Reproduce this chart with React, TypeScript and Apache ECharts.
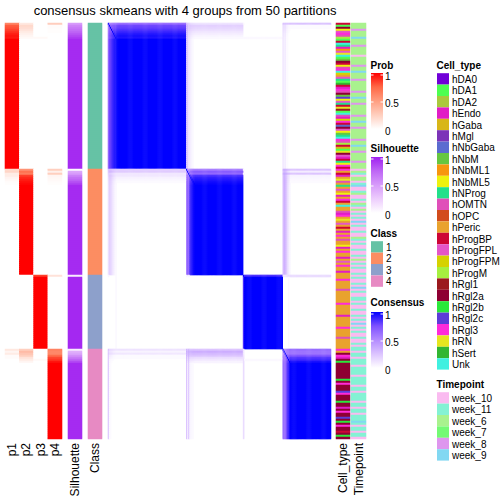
import React, { useEffect, useRef } from "react";
import * as echarts from "echarts";

const FONT = '"Liberation Sans", Arial, Helvetica, sans-serif';

const chartTitle = "consensus skmeans with 4 groups from 50 partitions";
const probColumns = ["p1", "p2", "p3", "p4"];
const classNames = ["1", "2", "3", "4"];
const classColors = ["#66C2A5", "#FC8D62", "#8DA0CB", "#E78AC3"];

const cellTypeNames = ["hDA0", "hDA1", "hDA2", "hEndo", "hGaba", "hMgl", "hNbGaba", "hNbM", "hNbML1", "hNbML5", "hNProg", "hOMTN", "hOPC", "hPeric", "hProgBP", "hProgFPL", "hProgFPM", "hProgM", "hRgl1", "hRgl2a", "hRgl2b", "hRgl2c", "hRgl3", "hRN", "hSert", "Unk"];
const cellTypeColors = ["#7000D8", "#4DFF50", "#AAC83C", "#E11CC6", "#D8B618", "#7C34B8", "#5B6BD0", "#66C640", "#F7960F", "#EEF20E", "#22E08A", "#E04FB9", "#D24C1C", "#E9A22E", "#CD0535", "#E455C8", "#D6D200", "#A6F040", "#9B1A1E", "#8E0033", "#2AE83A", "#5C3CD8", "#FF2ADA", "#E6E61E", "#32B632", "#40F0E0"];
const cellTypeKeys = "abcdefghijklmnopqrstuvwxyz";

const timepointNames = ["week_10", "week_11", "week_6", "week_7", "week_8", "week_9"];
const timepointColors = ["#FABBF0", "#84F2D4", "#A9F28E", "#74FA74", "#DE96EE", "#82D8F2"];
const timepointKeys = "ABCDEF";

// Ambiguous rows at the top of each class: [p1, p2, p3, p4, silhouette]
const class1Head = [
  [0.62, 0.12, 0, 0.26, 0.5],
  [0.78, 0.2, 0, 0.02, 0.6],
  [0.8, 0.18, 0, 0.02, 0.65],
  [0.84, 0.15, 0, 0.01, 0.7],
  [0.88, 0.11, 0, 0.01, 0.75],
  [0.92, 0.08, 0, 0, 0.8],
  [0.95, 0.05, 0, 0, 0.85],
  [0.94, 0.03, 0.03, 0, 0.9],
];
const class2Head = [
  [0.2, 0.55, 0, 0.25, 0.02],
  [0.22, 0.7, 0, 0.08, 0.45],
  [0.1, 0.65, 0, 0.25, 0.5],
  [0.1, 0.85, 0, 0.05, 0.62],
  [0.06, 0.9, 0, 0.04, 0.7],
  [0.04, 0.93, 0, 0.03, 0.75],
  [0.02, 0.96, 0, 0.02, 0.82],
  [0.01, 0.98, 0, 0.01, 0.88],
];
const class3Head = [[0, 0, 0.85, 0.15, 0.1]];
const class4Head = [
  [0.12, 0.25, 0, 0.63, 0.1],
  [0.05, 0.35, 0, 0.6, 0.4],
  [0.1, 0.3, 0, 0.6, 0.45],
  [0.02, 0.25, 0, 0.73, 0.55],
  [0.02, 0.15, 0, 0.83, 0.65],
  [0, 0.1, 0.03, 0.87, 0.75],
  [0, 0.05, 0, 0.95, 0.85],
];
const classHeads = [class1Head, class2Head, class3Head, class4Head];
const coreSilhouette = [0.96, 0.96, 0.97, 0.96];

// Cell type per row (letters map to cellTypeNames)
const cellType1 = "obtjpwlrbo" + "zkdipxzbht" + "ojlwzqnpkb" + "yodwlthvjp" + "koxsbzldqw" + "ogtpjhkzwl" + "roebxtpdok" + "jwo";
const cellType2 = "wnodnxlnkn" + "pnjdnwonzn" + "nldwnxnpno" + "ndnwnlnnjd" + "nwnndnpnwn" + "ndn";
const cellType3 = "nnwnnnnlnn" + "nnnnwnnnnn" + "dnnnnnwnnn" + "nlnnnnn";
const cellType4 = "wntwdtuttt" + "tttttutwtt" + "tvwtttuttd" + "twttvtutwt" + "totut";
const cellTypeByClass = [cellType1, cellType2, cellType3, cellType4];

// Timepoint per row (letters map to timepointNames)
const timepoint1 = "CCCECCCFCC" + "CECCCCACCC" + "CECCFCCCEC" + "CCCCECCFCC" + "ECCCCCECCF" + "CCECCCCCEC" + "CFCCECCCCE" + "CCC";
const timepoint2 = "ACBACCABFA" + "ABCAABACBA" + "CABABAFABA" + "ABAACBABAA" + "BAABACABAB" + "AAB";
const timepoint3 = "ABAABAFABA" + "ABBABAABAA" + "BABAFABABA" + "ABAABAB";
const timepoint4 = "BABBABBBAB" + "BBBABBBBAB" + "BABBBBABBA" + "BBABBBFBAB" + "BABBA";
const timepointByClass = [timepoint1, timepoint2, timepoint3, timepoint4];

const legendTicks = ["1", "0.5", "0"];

const probStops = ["#FFFFFF", "#FFCFBF", "#FF9E81", "#FF6846", "#FF0000"];
const silStops = ["#FFFFFF", "#EDCDFD", "#D79BFA", "#BE66F5", "#A020F0"];
const consStops = ["#FFFFFF", "#DCC4FF", "#B38BFF", "#7E51FF", "#0000FF"];

type Row = { p: number[]; sil: number; cls: number; ct: number; tp: number };

function buildRows(): Row[] {
  const rows: Row[] = [];
  for (let c = 0; c < 4; c++) {
    const cts = cellTypeByClass[c];
    const tps = timepointByClass[c];
    const head = classHeads[c];
    for (let r = 0; r < cts.length; r++) {
      let p: number[];
      let sil: number;
      if (r < head.length) {
        p = head[r].slice(0, 4);
        sil = head[r][4];
      } else {
        p = [0, 0, 0, 0];
        p[c] = 1;
        sil = coreSilhouette[c];
      }
      rows.push({
        p,
        sil,
        cls: c,
        ct: cellTypeKeys.indexOf(cts[r]),
        tp: timepointKeys.indexOf(tps[r] || "A"),
      });
    }
  }
  return rows;
}

function gradientLegend(title: string, titleY: number, barTop: number, stops: string[]) {
  const els: any[] = [];
  els.push({
    type: "text",
    x: 370.5,
    y: titleY,
    style: { text: title, font: `bold 10px ${FONT}`, fill: "#000", align: "left", verticalAlign: "middle" },
  });
  const h = 56;
  els.push({
    type: "rect",
    shape: { x: 371, y: barTop, width: 12, height: h },
    style: {
      fill: {
        type: "linear",
        x: 0,
        y: 0,
        x2: 0,
        y2: 1,
        colorStops: stops
          .slice()
          .reverse()
          .map((c, i) => ({ offset: i / (stops.length - 1), color: c })),
      },
    },
  });
  const labelYs = [barTop + 3, barTop + 30, barTop + 58];
  legendTicks.forEach((t, i) => {
    els.push({
      type: "text",
      x: 385,
      y: labelYs[i],
      style: { text: t, font: `10px ${FONT}`, fill: "#000", align: "left", verticalAlign: "middle" },
    });
    if (i < 2) {
      const ly = barTop + 2 + i * 27;
      els.push({ type: "line", shape: { x1: 371, y1: ly, x2: 373.5, y2: ly }, style: { stroke: "#FFFFFF", lineWidth: 1 } });
      els.push({ type: "line", shape: { x1: 380.5, y1: ly, x2: 383, y2: ly }, style: { stroke: "#FFFFFF", lineWidth: 1 } });
    }
  });
  return els;
}

function discreteLegend(title: string, x: number, titleY: number, names: string[], colors: string[]) {
  const els: any[] = [];
  els.push({
    type: "text",
    x: x - 0.5,
    y: titleY,
    style: { text: title, font: `bold 10px ${FONT}`, fill: "#000", align: "left", verticalAlign: "middle" },
  });
  const step = 11.4;
  const top = titleY + 8.2;
  names.forEach((n, i) => {
    els.push({
      type: "rect",
      shape: { x, y: top + i * step, width: 12, height: step },
      style: { fill: colors[i] },
    });
    els.push({
      type: "text",
      x: x + 15,
      y: top + i * step + step / 2 + 0.5,
      style: { text: n, font: `10px ${FONT}`, fill: "#000", align: "left", verticalAlign: "middle" },
    });
  });
  return els;
}

export default function App() {
  const ref = useRef<HTMLDivElement>(null);
  useEffect(() => {
    if (!ref.current) return;
    const chart = echarts.init(ref.current, null, { renderer: "svg" });
    const rows = buildRows();
    const n = rows.length;
    const rowIds = rows.map((_, i) => String(i));

    const probData: number[][] = [];
    const silData: number[][] = [];
    const classData: number[][] = [];
    const ctData: number[][] = [];
    const tpData: number[][] = [];
    rows.forEach((r, i) => {
      r.p.forEach((v, k) => probData.push([k, i, v]));
      silData.push([0, i, r.sil]);
      classData.push([0, i, r.cls]);
      ctData.push([0, i, r.ct]);
      tpData.push([0, i, r.tp]);
    });
    const consData: number[][] = [];
    for (let i = 0; i < n; i++) {
      for (let j = 0; j < n; j++) {
        let v = 0;
        if (i === j) v = 1;
        else for (let k = 0; k < 4; k++) v += rows[i].p[k] * rows[j].p[k];
        if (v > 0.015) consData.push([j, i, Math.min(1, v)]);
      }
    }

    const top = 23;
    const height = 416;
    const grids = [
      { left: 5, width: 57 },
      { left: 68, width: 14 },
      { left: 88, width: 14 },
      { left: 108, width: 223 },
      { left: 336, width: 14 },
      { left: 351, width: 15 },
    ].map((g) => ({ ...g, top, height, containLabel: false, show: false }));

    const xLabels: (string[] | null)[] = [probColumns, ["Silhouette"], ["Class"], null, ["Cell_type"], ["Timepoint"]];
    const xAxis = xLabels.map((labels, gi) => ({
      type: "category",
      gridIndex: gi,
      data: labels || rowIds,
      position: "bottom",
      axisLine: { show: false },
      axisTick: { show: false },
      splitLine: { show: false },
      axisLabel: {
        show: !!labels,
        rotate: 90,
        fontSize: 12,
        fontFamily: FONT,
        color: "#000",
        margin: 4,
        interval: 0,
      },
    }));
    const yAxis = grids.map((_, gi) => ({
      type: "category",
      gridIndex: gi,
      data: rowIds,
      inverse: true,
      show: false,
    }));

    const mk = (gi: number, data: number[][]) => ({
      type: "heatmap",
      xAxisIndex: gi,
      yAxisIndex: gi,
      data,
      progressive: 0,
      itemStyle: { borderWidth: 0 },
      emphasis: { disabled: true },
    });

    const graphic: any[] = [
      {
        type: "text",
        x: 185,
        y: 10,
        style: { text: chartTitle, font: `13px ${FONT}`, fill: "#000", align: "center", verticalAlign: "middle" },
      },
      ...gradientLegend("Prob", 65, 73, probStops),
      ...gradientLegend("Silhouette", 148, 157, silStops),
      ...discreteLegend("Class", 371, 233, classNames, classColors),
      ...gradientLegend("Consensus", 302, 312, consStops),
      ...discreteLegend("Cell_type", 437, 65, cellTypeNames, cellTypeColors),
      ...discreteLegend("Timepoint", 437, 384, timepointNames, timepointColors),
    ];

    chart.setOption({
      animation: false,
      backgroundColor: "#FFFFFF",
      grid: grids,
      xAxis,
      yAxis,
      visualMap: [
        { type: "continuous", show: false, min: 0, max: 1, seriesIndex: 0, dimension: 2, inRange: { color: probStops } },
        { type: "continuous", show: false, min: 0, max: 1, seriesIndex: 1, dimension: 2, inRange: { color: silStops } },
        { type: "piecewise", show: false, seriesIndex: 2, dimension: 2, pieces: classColors.map((c, i) => ({ value: i, color: c })) },
        { type: "continuous", show: false, min: 0, max: 1, seriesIndex: 3, dimension: 2, inRange: { color: consStops } },
        { type: "piecewise", show: false, seriesIndex: 4, dimension: 2, pieces: cellTypeColors.map((c, i) => ({ value: i, color: c })) },
        { type: "piecewise", show: false, seriesIndex: 5, dimension: 2, pieces: timepointColors.map((c, i) => ({ value: i, color: c })) },
      ],
      series: [mk(0, probData), mk(1, silData), mk(2, classData), mk(3, consData), mk(4, ctData), mk(5, tpData)],
      graphic,
    });
    return () => chart.dispose();
  }, []);
  return <div ref={ref} style={{ position: "absolute", left: 0, top: 0, width: 504, height: 504 }} />;
}
